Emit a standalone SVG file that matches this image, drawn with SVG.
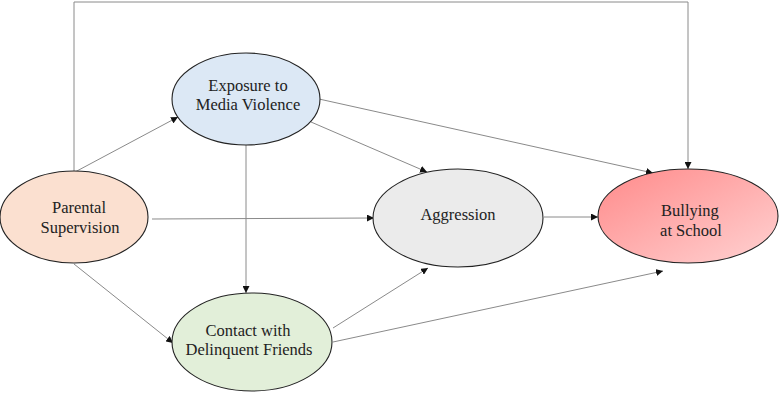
<svg xmlns="http://www.w3.org/2000/svg" width="781" height="394" viewBox="0 0 781 394">
<defs>
<marker id="ah" viewBox="0 0 10 10" refX="10" refY="5" markerWidth="7" markerHeight="7" markerUnits="userSpaceOnUse" orient="auto">
<path d="M0,0 L10,5 L0,10 z" fill="#111"/>
</marker>
<linearGradient id="gb" x1="0" y1="0" x2="1" y2="1">
<stop offset="0" stop-color="#ff8a8a"/>
<stop offset="1" stop-color="#ffd2d2"/>
</linearGradient>
<style>
.e{stroke:#222;stroke-width:1.1}
.t{font-family:'Liberation Serif',serif;font-size:16.5px;fill:#222;text-anchor:middle}
.c{fill:none;stroke:#8a8a8a;stroke-width:1;marker-end:url(#ah)}
</style>
</defs>
<rect width="781" height="394" fill="#fff"/>
<g id="connectors">
<path class="c" d="M74,171 V2 H688 V169"/>
<path class="c" d="M75,172 L178,117"/>
<path class="c" d="M152,219 L374,218"/>
<path class="c" d="M74,264 L173,343"/>
<path class="c" d="M246,145 V293"/>
<path class="c" d="M311,122 L427,172"/>
<path class="c" d="M319,99 L653,173"/>
<path class="c" d="M544,217 L598,217"/>
<path class="c" d="M333,328 L428,268"/>
<path class="c" d="M333,342 L663,271"/>
</g>
<g id="exposure">
<ellipse class="e" cx="246" cy="99" rx="74" ry="46" fill="#dce8f5"/>
<text class="t" x="248" y="91">Exposure to</text>
<text class="t" x="248" y="110">Media Violence</text>
</g>
<g id="parental">
<ellipse class="e" cx="74" cy="217" rx="74" ry="46" fill="#fbe0d0"/>
<text class="t" x="79" y="213">Parental</text>
<text class="t" x="80" y="233">Supervision</text>
</g>
<g id="aggression">
<ellipse class="e" cx="458" cy="218" rx="85" ry="49" fill="#ebebeb"/>
<text class="t" x="458" y="220">Aggression</text>
</g>
<g id="bullying">
<ellipse class="e" cx="688" cy="216" rx="90" ry="47" fill="url(#gb)"/>
<text class="t" x="690" y="216">Bullying</text>
<text class="t" x="691" y="236">at School</text>
</g>
<g id="contact">
<ellipse class="e" cx="252" cy="342" rx="80" ry="49" fill="#e2efd9"/>
<text class="t" x="248" y="336">Contact with</text>
<text class="t" x="249" y="355">Delinquent Friends</text>
</g>
</svg>
